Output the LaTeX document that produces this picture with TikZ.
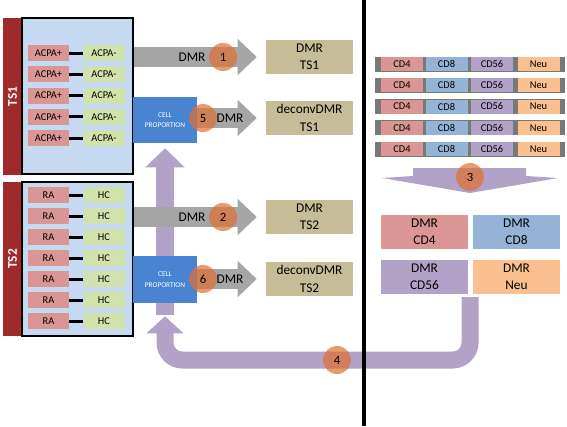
\documentclass[tikz,border=0pt]{standalone}
\usepackage{fontspec}
\setmainfont{Carlito}
\usetikzlibrary{arrows.meta,backgrounds}

\definecolor{tsred}{RGB}{160,41,43}
\definecolor{grpblue}{RGB}{198,217,240}
\definecolor{casepink}{RGB}{218,150,148}
\definecolor{ctrlgreen}{RGB}{210,226,172}
\definecolor{propblue}{RGB}{72,132,210}
\definecolor{restan}{RGB}{196,189,151}
\definecolor{arrowgray}{RGB}{166,166,166}
\definecolor{flowpurple}{RGB}{179,162,199}
\definecolor{cdblue}{RGB}{149,179,215}
\definecolor{neuorange}{RGB}{250,192,143}
\definecolor{stripgray}{RGB}{120,120,120}
\definecolor{numorange}{RGB}{222,112,52}

\tikzset{
  grpbox/.style={draw=black, line width=1.5pt, fill=grpblue, minimum width=83.25pt, inner sep=0pt},
  tsbar/.style={fill=tsred, rotate=90, minimum height=14.25pt, text=white, inner sep=0pt,
    font=\fontsize{10}{12}\selectfont\bfseries},
  casebox/.style={fill=casepink, minimum width=30.75pt, minimum height=12pt, inner sep=0pt,
    font=\fontsize{7.8}{9}\selectfont},
  ctrlbox/.style={casebox, fill=ctrlgreen},
  pairline/.style={line width=2.25pt},
  propbox/.style={fill=propblue, minimum width=48pt, minimum height=34.5pt, inner sep=0pt,
    align=center, text=white, font=\fontsize{5.5}{8}\selectfont},
  resbox/.style={fill=restan, minimum width=65.25pt, minimum height=25.5pt, inner sep=0pt,
    align=center, font=\fontsize{10}{13}\selectfont},
  celltype/.style={minimum width=31.5pt, minimum height=10.5pt, inner sep=0pt,
    font=\fontsize{7.8}{9}\selectfont},
  typestrip/.style={fill=stripgray, minimum width=142.5pt, minimum height=11.25pt, inner sep=0pt},
  grayarrow/.style={draw=arrowgray, line width=15pt,
    -{Triangle[length=14.25pt,width=26.25pt]}, shorten >=6.75pt},
  stepnum/.style={circle, fill=numorange, fill opacity=0.7, text opacity=1,
    minimum size=21pt, inner sep=0pt, font=\fontsize{9.5}{10}\selectfont},
  dmrlabel/.style={inner sep=0pt, font=\fontsize{10}{12}\selectfont}
}

\begin{document}
\begin{tikzpicture}[x=0.75pt, y=-0.75pt]
  \useasboundingbox (0,0) rectangle (567,426);

  % TS1 group
  \node[tsbar, minimum width=117.75pt] (ts1bar) at (12.5,96.5) {TS1};
  \node[grpbox, minimum height=117pt] (ts1box) at (77.5,96) {};
  \foreach \i in {0,...,4} {
    \node[casebox] (acp\i) at (48.5,53+21.25*\i) {ACPA+};
    \node[ctrlbox] (acn\i) at (104,53+21.25*\i) {ACPA-};
    \draw[pairline] (acp\i) -- (acn\i);
  }

  % TS2 group
  \node[tsbar, minimum width=115.5pt] (ts2bar) at (12.5,259) {TS2};
  \node[grpbox, minimum height=115.5pt] (ts2box) at (77.5,259) {};
  \foreach \i in {0,...,6} {
    \node[casebox] (ra\i) at (48.5,195+21*\i) {RA};
    \node[ctrlbox] (hc\i) at (104,195+21*\i) {HC};
    \draw[pairline] (ra\i) -- (hc\i);
  }

  % cell proportion boxes
  \node[propbox] (cp1) at (165,120) {CELL\\PROPORTION};
  \node[propbox, minimum height=35.25pt] (cp2) at (165,279.5) {CELL\\PROPORTION};

  % results
  \node[resbox] (dmr1) at (309.5,57) {DMR\\TS1};
  \node[resbox] (ddmr1) at (309.5,118) {deconvDMR\\TS1};
  \node[resbox] (dmr2) at (309.5,217) {DMR\\TS2};
  \node[resbox] (ddmr2) at (309.5,279) {deconvDMR\\TS2};

  % cell type references
  \foreach \i in {0,...,4} {
    \node[typestrip] (strip\i) at (470,64+21.25*\i) {};
    \node[celltype, fill=casepink] (cd4\i) at (402,64+21.25*\i) {CD4};
    \node[celltype, fill=cdblue] (cd8\i) at (446.5,64+21.25*\i) {CD8};
    \node[celltype, fill=flowpurple] (cd56\i) at (492,64+21.25*\i) {CD56};
    \node[celltype, fill=neuorange] (neu\i) at (538.5,64+21.25*\i) {Neu};
  }
  \node[resbox, fill=casepink] (dcd4) at (424.5,231.5) {DMR\\CD4};
  \node[resbox, fill=cdblue] (dcd8) at (516.5,231.5) {DMR\\CD8};
  \node[resbox, fill=flowpurple] (dcd56) at (424.5,276.5) {DMR\\CD56};
  \node[resbox, fill=neuorange] (dneu) at (516.5,276.5) {DMR\\Neu};

  % purple flow arrows behind
  \begin{scope}[on background layer]
    \draw[flowpurple, line width=13.5pt, -{Triangle[length=14.25pt,width=28.5pt]}, shorten >=3.75pt]
      ([yshift=-9pt]cp2.south) -- (cp1.south);
    \coordinate (ustart) at (470,297);
    \draw[flowpurple, line width=12.75pt, rounded corners=13pt, -{Triangle[length=12.75pt,width=27pt]}]
      (ustart) -- ++(0,63) -| ([yshift=-9.75pt]cp2.south);
    \fill[flowpurple] (413,168) -- (526,168) -- (526,176) -- (558,178) -- (470,193)
      -- (382,178) -- (413,176) -- cycle;
  \end{scope}

  % gray arrows
  \draw[grayarrow] (ts1box.east |- dmr1) -- (dmr1.west);
  \draw[grayarrow] (cp1.east |- ddmr1) -- (ddmr1.west);
  \draw[grayarrow] (ts2box.east |- dmr2) -- (dmr2.west);
  \draw[grayarrow] (cp2.east |- ddmr2) -- (ddmr2.west);
  \node[dmrlabel] (lbl1) at (192,57) {DMR};
  \node[dmrlabel] (lbl5) at (230,118) {DMR};
  \node[dmrlabel] (lbl2) at (192,217) {DMR};
  \node[dmrlabel] (lbl6) at (230,279) {DMR};

  % step numbers
  \node[stepnum] (n1) at (223,57) {1};
  \node[stepnum] (n2) at (223,217) {2};
  \node[stepnum] (n3) at (470,177) {3};
  \node[stepnum] (n4) at (337,360) {4};
  \node[stepnum] (n5) at (203,118) {5};
  \node[stepnum] (n6) at (203,279) {6};

  % divider
  \coordinate (divtop) at (364,0);
  \coordinate (divbot) at (364,426);
  \draw[line width=3pt] (divtop) -- (divbot);
\end{tikzpicture}
\end{document}
